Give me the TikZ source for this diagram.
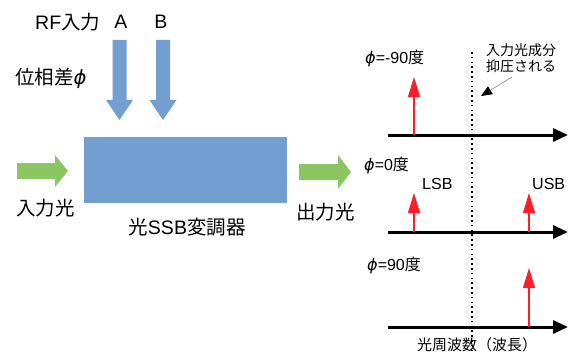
\documentclass[tikz,border=0pt]{standalone}
\usepackage{fontspec}
\setmainfont{Noto Sans CJK JP}
\newfontfamily\lat{Liberation Sans}
\newfontfamily\grk{DejaVu Sans}
\newcommand{\phig}{{\grk\itshape ϕ}}
\usetikzlibrary{arrows.meta}
\definecolor{boxblue}{RGB}{114,159,208}
\definecolor{arrgreen}{RGB}{140,198,99}
\definecolor{sigred}{RGB}{255,30,40}
\tikzset{
  bigtxt/.style={inner sep=0pt, font=\fontsize{19.5}{22}\selectfont},
  smalltxt/.style={inner sep=0pt, font=\fontsize{16}{18}\selectfont},
  tinytxt/.style={inner sep=0pt, font=\fontsize{14}{16}\selectfont},
  axisline/.style={line width=3pt, -{Triangle[length=15pt,width=13pt]}},
  sigarrow/.style={sigred, line width=1.3pt, -{Triangle[length=20pt,width=12pt]}},
  dotline/.style={line width=1.6pt, dash pattern=on 1.6pt off 3.2pt},
}
\begin{document}
\begin{tikzpicture}[x=1pt,y=-1pt]
\useasboundingbox (0,0) rectangle (568,353);
% modulator box
\node[fill=boxblue, minimum width=203pt, minimum height=66pt, inner sep=0pt, anchor=north west] (mod) at (84,137) {};
% RF arrows
\fill[boxblue] (112.5,40) -- (126.5,40) -- (126.5,100) -- (133,100) -- (119.5,120) -- (106,100) -- (112.5,100) -- cycle;
\fill[boxblue] (156,40) -- (170,40) -- (170,100) -- (176.5,100) -- (163,120) -- (149.5,100) -- (156,100) -- cycle;
% green arrows
\fill[arrgreen] (17,163) -- (55,163) -- (55,155) -- (68,171) -- (55,187) -- (55,179) -- (17,179) -- cycle;
\fill[arrgreen] (299,164) -- (338,164) -- (338,155) -- (351,172) -- (338,189) -- (338,180) -- (299,180) -- cycle;
% left texts
\node[bigtxt, anchor=west] (rf) at (35,22) {{\lat RF}入力};
\node[bigtxt] (la) at (121,22) {\lat A};
\node[bigtxt] (lb) at (161,22) {\lat B};
\node[bigtxt, anchor=west] (phase) at (15,78) {位相差\phig};
\node[bigtxt, anchor=west] (inl) at (16,208) {入力光};
\node[bigtxt] (modl) at (187,227) {光{\lat SSB}変調器};
\node[bigtxt, anchor=west] (outl) at (296,212) {出力光};
% spectra
\coordinate (a1s) at (388,135); \coordinate (a1e) at (568,135);
\coordinate (a2s) at (388,232); \coordinate (a2e) at (568,232);
\coordinate (a3s) at (388,327); \coordinate (a3e) at (568,327);
\draw[dotline] (472,52) -- (472,353);
\draw[axisline] (a1s) -- (a1e);
\draw[axisline] (a2s) -- (a2e);
\draw[axisline] (a3s) -- (a3e);
\coordinate (r1b) at (414,135); \coordinate (r1t) at (414,77);
\coordinate (r2b) at (414,232); \coordinate (r2t) at (414,193);
\coordinate (r3b) at (529,232); \coordinate (r3t) at (529,193);
\coordinate (r4b) at (529,327); \coordinate (r4t) at (529,268);
\draw[sigarrow] (r1b) -- (r1t);
\draw[sigarrow] (r2b) -- (r2t);
\draw[sigarrow] (r3b) -- (r3t);
\draw[sigarrow] (r4b) -- (r4t);
\node[smalltxt, anchor=west] (p1) at (365,58) {\phig{\lat =-90}度};
\node[smalltxt, anchor=west] (p2) at (364,165) {\phig{\lat =0}度};
\node[smalltxt, anchor=west] (p3) at (367,265) {\phig{\lat =90}度};
\node[smalltxt, anchor=west] (lsb) at (422,184) {\lat LSB};
\node[smalltxt, anchor=west] (usb) at (532,184) {\lat USB};
\node[tinytxt, anchor=west] (note1) at (486,50) {入力光成分};
\node[tinytxt, anchor=west] (note2) at (486,66) {抑圧される};
\coordinate (ps) at (512,77); \coordinate (pe) at (481,96);
\draw[gray, line width=0.6pt, -{Triangle[length=11pt,width=9pt,color=black]}] (ps) -- (pe);
\node[inner sep=0pt, font=\fontsize{15}{18}\selectfont, anchor=west] (freq) at (417,345) {光周波数（波長）};
\end{tikzpicture}
\end{document}
